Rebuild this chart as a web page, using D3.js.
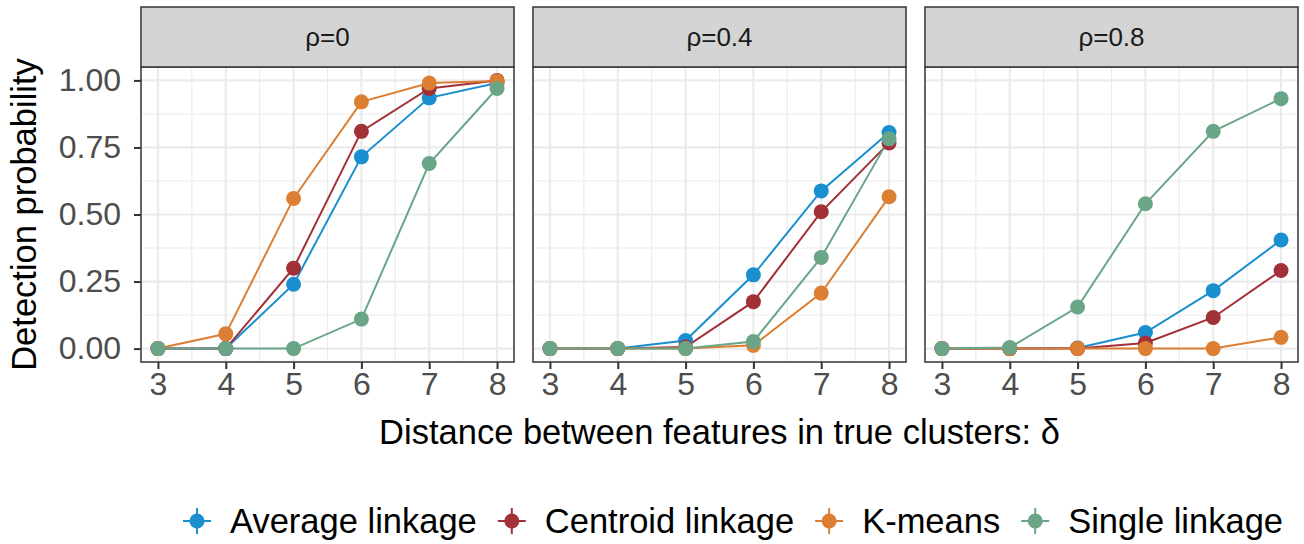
<!DOCTYPE html>
<html>
<head>
<meta charset="utf-8">
<script src="https://cdn.jsdelivr.net/npm/d3@7"></script>
<style>
  body { margin: 0; background: #fff; }
  svg { font-family: "Liberation Sans", Arial, sans-serif; }
</style>
</head>
<body>
<script>
// distances on the x axis, one panel per correlation
var deltas = [3, 4, 5, 6, 7, 8];
var rhoLabels = ["ρ=0", "ρ=0.4", "ρ=0.8"];
var methods = ["Average linkage", "Centroid linkage", "K-means", "Single linkage"];
var methodColors = ["#1A8FCF", "#A23137", "#DC7F33", "#6BA587"];

// detection probability, one row per rho panel
var averageLinkage = [
  [0, 0, 0.24, 0.715, 0.935, 0.99],
  [0, 0, 0.03, 0.275, 0.588, 0.806],
  [0, 0, 0.002, 0.06, 0.216, 0.405]
];
var centroidLinkage = [
  [0, 0, 0.30, 0.81, 0.97, 1.00],
  [0, 0, 0.006, 0.175, 0.51, 0.767],
  [0, 0, 0, 0.021, 0.116, 0.291]
];
var kMeans = [
  [0, 0.055, 0.56, 0.92, 0.99, 0.998],
  [0, 0, 0, 0.012, 0.207, 0.566],
  [0, 0, 0, 0, 0, 0.042]
];
var singleLinkage = [
  [0, 0, 0, 0.11, 0.69, 0.97],
  [0, 0, 0, 0.026, 0.34, 0.782],
  [0, 0.004, 0.155, 0.54, 0.81, 0.932]
];
var yTicks = [0, 0.25, 0.5, 0.75, 1];
var yMinor = [0.125, 0.375, 0.625, 0.875];
var xMinor = [3.5, 4.5, 5.5, 6.5, 7.5];

var seriesByMethod = [averageLinkage, centroidLinkage, kMeans, singleLinkage];

var width = 1304, height = 544;
var panelW = 373, panelGap = 19, panelLeft = 141;
var stripTop = 7, panelTop = 67, panelBottom = 362;

var svg = d3.select("body").append("svg")
    .attr("width", width)
    .attr("height", height);

var x = d3.scaleLinear().domain([2.75, 8.25]).range([0, panelW]);
var y = d3.scaleLinear().domain([-0.05, 1.05]).range([panelBottom, panelTop]);

var line = d3.line()
    .x(function(d){ return x(d[0]); })
    .y(function(d){ return y(d[1]); });

rhoLabels.forEach(function(label, p){
  var left = panelLeft + p * (panelW + panelGap);
  var g = svg.append("g").attr("transform", "translate(" + left + ",0)");

  //minor grid
  g.selectAll(".minorY").data(yMinor).enter().append("line")
    .attr("x1", 0).attr("x2", panelW)
    .attr("y1", y).attr("y2", y)
    .attr("stroke", "#EBEBEB").attr("stroke-width", 1.1);
  g.selectAll(".minorX").data(xMinor).enter().append("line")
    .attr("x1", x).attr("x2", x)
    .attr("y1", panelTop).attr("y2", panelBottom)
    .attr("stroke", "#EBEBEB").attr("stroke-width", 1.1);

  //major grid
  g.selectAll(".majorY").data(yTicks).enter().append("line")
    .attr("x1", 0).attr("x2", panelW)
    .attr("y1", y).attr("y2", y)
    .attr("stroke", "#EBEBEB").attr("stroke-width", 2.2);
  g.selectAll(".majorX").data(deltas).enter().append("line")
    .attr("x1", x).attr("x2", x)
    .attr("y1", panelTop).attr("y2", panelBottom)
    .attr("stroke", "#EBEBEB").attr("stroke-width", 2.2);

  //lines first, then points on top
  seriesByMethod.forEach(function(series, m){
    var pts = deltas.map(function(d, i){ return [d, series[p][i]]; });
    g.append("path")
      .datum(pts)
      .attr("fill", "none")
      .attr("stroke", methodColors[m])
      .attr("stroke-width", 2)
      .attr("d", line);
  });
  seriesByMethod.forEach(function(series, m){
    var pts = deltas.map(function(d, i){ return [d, series[p][i]]; });
    g.selectAll(".pt" + m).data(pts).enter().append("circle")
      .attr("cx", function(d){ return x(d[0]); })
      .attr("cy", function(d){ return y(d[1]); })
      .attr("r", 7.5)
      .attr("fill", methodColors[m]);
  });

  //panel border
  g.append("rect")
    .attr("x", 0).attr("y", panelTop)
    .attr("width", panelW).attr("height", panelBottom - panelTop)
    .attr("fill", "none").attr("stroke", "#333333").attr("stroke-width", 1.5);

  //strip
  g.append("rect")
    .attr("x", 0).attr("y", stripTop)
    .attr("width", panelW).attr("height", panelTop - stripTop)
    .attr("fill", "#D4D4D4").attr("stroke", "#333333").attr("stroke-width", 1.5);
  g.append("text")
    .attr("x", panelW / 2).attr("y", (stripTop + panelTop) / 2 + 9)
    .attr("text-anchor", "middle")
    .attr("font-size", 26)
    .attr("fill", "#1A1A1A")
    .text(label);

  //x axis
  var xAxis = g.append("g")
    .attr("transform", "translate(0," + panelBottom + ")")
    .call(d3.axisBottom(x).tickValues(deltas).tickSize(7).tickPadding(3).tickFormat(d3.format("d")));
  xAxis.select(".domain").remove();
  xAxis.selectAll(".tick line").attr("stroke", "#333333").attr("stroke-width", 2);
  xAxis.selectAll(".tick text")
    .attr("font-size", 32).attr("fill", "#4D4D4D")
    .attr("font-family", "Liberation Sans, Arial, sans-serif");

  if (p === 0) {
    var yAxis = g.append("g")
      .call(d3.axisLeft(y).tickValues(yTicks).tickSize(7).tickPadding(13).tickFormat(d3.format(".2f")));
    yAxis.select(".domain").remove();
    yAxis.selectAll(".tick line").attr("stroke", "#333333").attr("stroke-width", 2);
    yAxis.selectAll(".tick text")
      .attr("font-size", 32).attr("fill", "#4D4D4D")
      .attr("font-family", "Liberation Sans, Arial, sans-serif");
  }
});

//axis titles
svg.append("text")
  .attr("transform", "translate(36," + (panelTop + panelBottom) / 2 + ") rotate(-90)")
  .attr("text-anchor", "middle")
  .attr("font-size", 34.5)
  .attr("fill", "#000")
  .text("Detection probability");

svg.append("text")
  .attr("x", panelLeft + (3 * panelW + 2 * panelGap) / 2)
  .attr("y", 444)
  .attr("text-anchor", "middle")
  .attr("font-size", 34.5)
  .attr("fill", "#000")
  .text("Distance between features in true clusters: δ");

//legend
var legend = svg.append("g");
var lx = 197, ly = 521;
methods.forEach(function(name, m){
  var item = legend.append("g").attr("transform", "translate(" + lx + "," + ly + ")");
  item.append("line").attr("x1", -14).attr("x2", 14).attr("y1", 0).attr("y2", 0)
    .attr("stroke", methodColors[m]).attr("stroke-width", 2);
  item.append("line").attr("x1", 0).attr("x2", 0).attr("y1", -13).attr("y2", 13)
    .attr("stroke", methodColors[m]).attr("stroke-width", 2);
  item.append("circle").attr("r", 7.5).attr("fill", methodColors[m]);
  var t = item.append("text")
    .attr("x", 33).attr("y", 12)
    .attr("font-size", 34.5)
    .attr("fill", "#000")
    .text(name);
  lx += 33 + t.node().getComputedTextLength() + 35;
});
</script>
</body>
</html>
